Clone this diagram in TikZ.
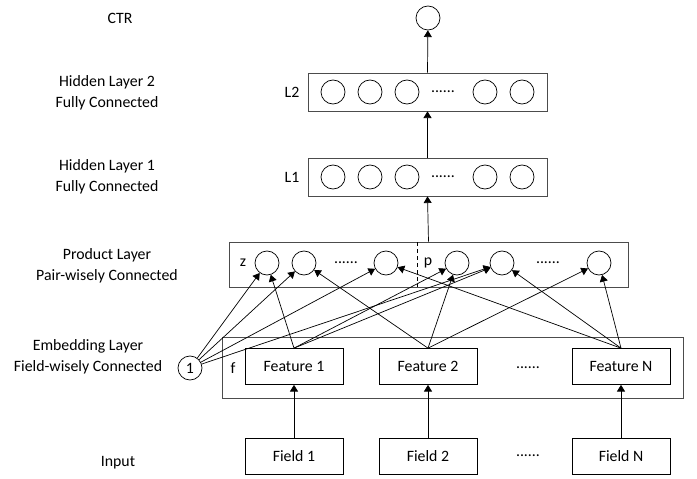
\documentclass[tikz,border=0pt]{standalone}
\usepackage{fontspec}
\setmainfont{Carlito}
\usetikzlibrary{arrows.meta}
\begin{document}
\begin{tikzpicture}[x=0.03cm,y=-0.03cm,line width=0.6pt,
  font=\fontsize{13.5}{17.5}\selectfont,
  unit/.style={circle,draw,minimum size=0.72cm,inner sep=0pt},
  layerbox/.style={draw=black!70,inner sep=0pt},
  featbox/.style={draw,minimum width=2.94cm,minimum height=1.08cm,inner sep=0pt},
  lbl/.style={align=center},
  link/.style={-{Triangle[length=2mm,width=2.4mm]}}]
\useasboundingbox (0,0) rectangle (697,479);

% layer names
\node[lbl] (nctr) at (120,18) {CTR};
\node[lbl] (nh2) at (107,93) {Hidden Layer 2\\Fully Connected};
\node[lbl] (nh1) at (107,177) {Hidden Layer 1\\Fully Connected};
\node[lbl] (nprod) at (107,266) {Product Layer\\Pair-wisely Connected};
\node[lbl] (nemb) at (88,357) {Embedding Layer\\Field-wisely Connected};
\node[lbl] (ninp) at (118,463) {Input};

% output
\node[unit] (ctr) at (428,18) {};

% hidden layers
\node[layerbox,minimum width=7.17cm,minimum height=1.14cm] (hid2) at (427.5,92) {};
\node[layerbox,minimum width=7.17cm,minimum height=1.14cm] (hid1) at (427.5,177) {};
\node (lt2) at (292,92) {L2};
\node (lt1) at (292,177) {L1};
\foreach \x [count=\i] in {333,370,407,485,522}
{
	\node[unit] (h2\i) at (\x,92) {};
	\node[unit] (h1\i) at (\x,177) {};
}
\node (d2) at (443,92) {......};
\node (d1) at (443,177) {......};

% product layer
\node[layerbox,minimum width=11.97cm,minimum height=1.35cm] (prod) at (428.5,264.5) {};
\coordinate (div) at (417,242);
\draw[dashed] (div) -- (div |- prod.south);
\node (zt) at (243,263) {z};
\node (pt) at (428,263) {p};
\foreach \x [count=\i] in {267,304,386}
	\node[unit] (z\i) at (\x,263) {};
\foreach \x [count=\i] in {457,502,599}
	\node[unit] (p\i) at (\x,263) {};
\node (dz) at (346,263) {......};
\node (dp) at (548,263) {......};

% embedding layer
\node[layerbox,minimum width=13.83cm,minimum height=1.83cm] (emb) at (452.5,367.5) {};
\node (ft) at (233,368) {f};
\node[featbox] (f1) at (294,366.5) {Feature 1};
\node[featbox] (f2) at (428,366.5) {Feature 2};
\node[featbox] (fN) at (621,366.5) {Feature N};
\node (df) at (528,368) {......};
\node[unit] (one) at (190,368) {1};

% input
\node[featbox] (i1) at (294,456.5) {Field 1};
\node[featbox] (i2) at (428,456.5) {Field 2};
\node[featbox] (iN) at (621,456.5) {Field N};
\node (di) at (528,456) {......};

% connections
\foreach \a/\b in {i1/f1,i2/f2,iN/fN}
	\draw[link] (\a.north) -- (\b.south);
\foreach \t in {z1,z2,z3,p2}
	\draw[link] (one) -- (\t);
\foreach \s/\t in {f1/z1,f1/p1,f1/p2,f2/z2,f2/p1,f2/p3,fN/z3,fN/p2,fN/p3}
	\draw[link] (\s.north) -- (\t);
\draw[link] (prod.north) -- (hid1.south);
\draw[link] (hid1.north) -- (hid2.south);
\draw[link] (hid2.north) -- (ctr);
\end{tikzpicture}
\end{document}
